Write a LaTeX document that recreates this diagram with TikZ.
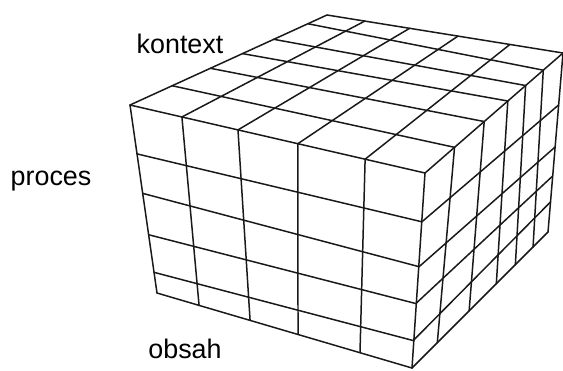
\documentclass[tikz,border=0pt]{standalone}
\usepackage{fontspec}
\setsansfont{Liberation Sans}
\usetikzlibrary{calc}
\tikzset{gridline/.style={draw=black!90,line width=.85pt,line cap=round,line join=round},
  axislabel/.style={font=\sffamily\fontsize{15.3}{18}\selectfont,text=black,inner sep=0pt}}

\begin{document}
\begin{tikzpicture}[x=.02cm,y=-.02cm]
\useasboundingbox (0,0) rectangle (563,370);
% corners of the cube
\coordinate (ftl) at (130,105);\coordinate (ftr) at (425,173);
\coordinate (fbl) at (157,293);\coordinate (fbr) at (412,368);
\coordinate (btl) at (327,15);\coordinate (btr) at (563,53);
\coordinate (bbr) at (548,232);
% front face
\foreach \a/\b in {0/0,.26/.25,.47/.48,.69/.67,.89/.86,1/1}
  \draw[gridline] ($(ftl)!\a!(fbl)$) -- ($(ftr)!\b!(fbr)$);
\foreach \a/\b in {0/0,.176/.165,.366/.365,.569/.553,.797/.796,1/1}
  \draw[gridline] ($(ftl)!\a!(ftr)$) -- ($(fbl)!\b!(fbr)$);
% top face
\foreach \a/\b in {.214/.214,.408/.429,.571/.6,.73/.729,.903/.857,1/1}
  \draw[gridline] ($(ftl)!\a!(btl)$) -- ($(ftr)!\b!(btr)$);
\foreach \a/\b in {0/0,.176/.16,.366/.35,.569/.555,.797/.775,1/1}
  \draw[gridline] ($(ftl)!\a!(ftr)$) -- ($(btl)!\b!(btr)$);
% right face
\foreach \a/\b in {.214/.186,.429/.42,.6/.62,.729/.76,.857/.89,1/1}
  \draw[gridline] ($(ftr)!\a!(btr)$) -- ($(fbr)!\b!(bbr)$);
\foreach \a/\b in {.251/.29,.482/.525,.667/.687,.856/.832,1/1}
  \draw[gridline] ($(ftr)!\a!(fbr)$) -- ($(btr)!\b!(bbr)$);
% labels
\node[axislabel] (kontext) at (180,44) {kontext};
\node[axislabel] (proces) at (51,181) {proces};
\node[axislabel] (obsah) at (185,349) {obsah};
\end{tikzpicture}
\end{document}
